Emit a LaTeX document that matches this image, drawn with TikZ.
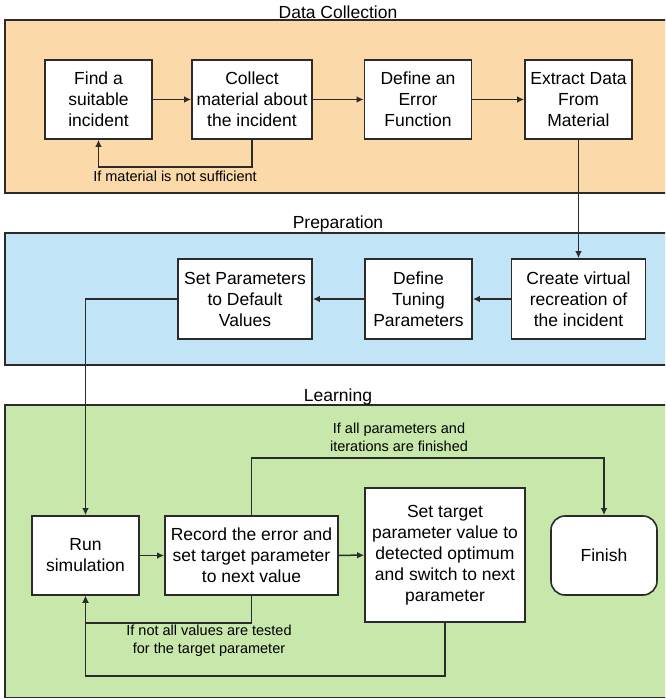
\documentclass[tikz,border=0pt]{standalone}
\usepackage{fontspec}
\setmainfont{Liberation Sans}
\usetikzlibrary{arrows.meta}
\definecolor{bandorange}{HTML}{FCD9A8}
\definecolor{bandblue}{HTML}{C1E4F7}
\definecolor{bandgreen}{HTML}{C7E7AB}
\definecolor{edge}{HTML}{2B2B2B}
\tikzset{
  band/.style={draw=edge, line width=1.6pt},
  box/.style={draw=edge, fill=white, line width=1.6pt, align=center, inner sep=0pt,
    font=\fontsize{17.5}{21}\selectfont, text=black},
  bandtitle/.style={font=\fontsize{17.5}{21}\selectfont, text=black},
  lbl/.style={font=\fontsize{14.5}{18}\selectfont, align=center, text=black},
  arr/.style={-{Latex[length=7pt,width=6.5pt]}, line width=1.5pt, draw=edge},
}
\begin{document}
\begin{tikzpicture}[x=1pt,y=-1pt]
\useasboundingbox (0,0) rectangle (665,699);
\clip (0,0) rectangle (665,699);
% bands
\draw[band, fill=bandorange] (5,20) rectangle (672,193);
\draw[band, fill=bandblue] (5,233) rectangle (672,365);
\draw[band, fill=bandgreen] (5,405) rectangle (672,697.5);
\node[bandtitle] (t1) at (338,12) {Data Collection};
\node[bandtitle] (t2) at (338,224) {Preparation};
\node[bandtitle] (t3) at (338,397) {Learning};
% Data collection
\node[box, minimum width=107pt, minimum height=79pt] (find) at (98.5,99.5) {Find a\\suitable\\incident};
\node[box, minimum width=120pt, minimum height=79pt] (collect) at (252,99.5) {Collect\\material about\\the incident};
\node[box, minimum width=107pt, minimum height=79pt] (deferr) at (418,99.5) {Define an\\Error\\Function};
\node[box, minimum width=107pt, minimum height=79pt] (extract) at (578.5,99.5) {Extract Data\\From\\Material};
% Preparation
\node[box, minimum width=134pt, minimum height=80pt] (setpar) at (245,299) {Set Parameters\\to Default\\Values};
\node[box, minimum width=107pt, minimum height=80pt] (deftun) at (418.5,299) {Define\\Tuning\\Parameters};
\node[box, minimum width=134pt, minimum height=80pt] (create) at (578.5,299) {Create virtual\\recreation of\\the incident};
% Learning
\node[box, minimum width=107pt, minimum height=79pt] (run) at (85.5,555.5) {Run\\simulation};
\node[box, minimum width=173pt, minimum height=79pt] (record) at (251.5,555.5) {Record the error and\\set target parameter\\to next value};
\node[box, minimum width=160pt, minimum height=134pt] (settgt) at (445,555) {Set target\\parameter value to\\detected optimum\\and switch to next\\parameter};
\node[box, rounded corners=14pt, minimum width=106pt, minimum height=79pt] (finish) at (604,555.5) {Finish};
% connectors
\draw[arr] (find) -- (collect);
\draw[arr] (collect) -- (deferr);
\draw[arr] (deferr) -- (extract);
\draw[arr] (collect.south) -- ++(0,27) -| (find.south);
\node[lbl] (l1) at (175,176) {If material is not sufficient};
\draw[arr] (extract.south) -- (create.north);
\draw[arr] (create) -- (deftun);
\draw[arr] (deftun) -- (setpar);
\draw[arr] (setpar.west) -| (run.north);
\draw[arr] (run) -- (record);
\draw[arr] (record) -- (settgt);
\draw[arr] (record.north) -- ++(0,-57) -| (finish.north);
\node[lbl] (l2) at (399,437) {If all parameters and\\iterations are finished};
\draw[arr] (record.south) -- ++(0,27) -| (run.south);
\node[lbl] (l3) at (209,640.5) {If not all values are tested\\for the target parameter};
\draw[arr] (settgt.south) -- ++(0,53) -| (run.south);
\end{tikzpicture}
\end{document}
